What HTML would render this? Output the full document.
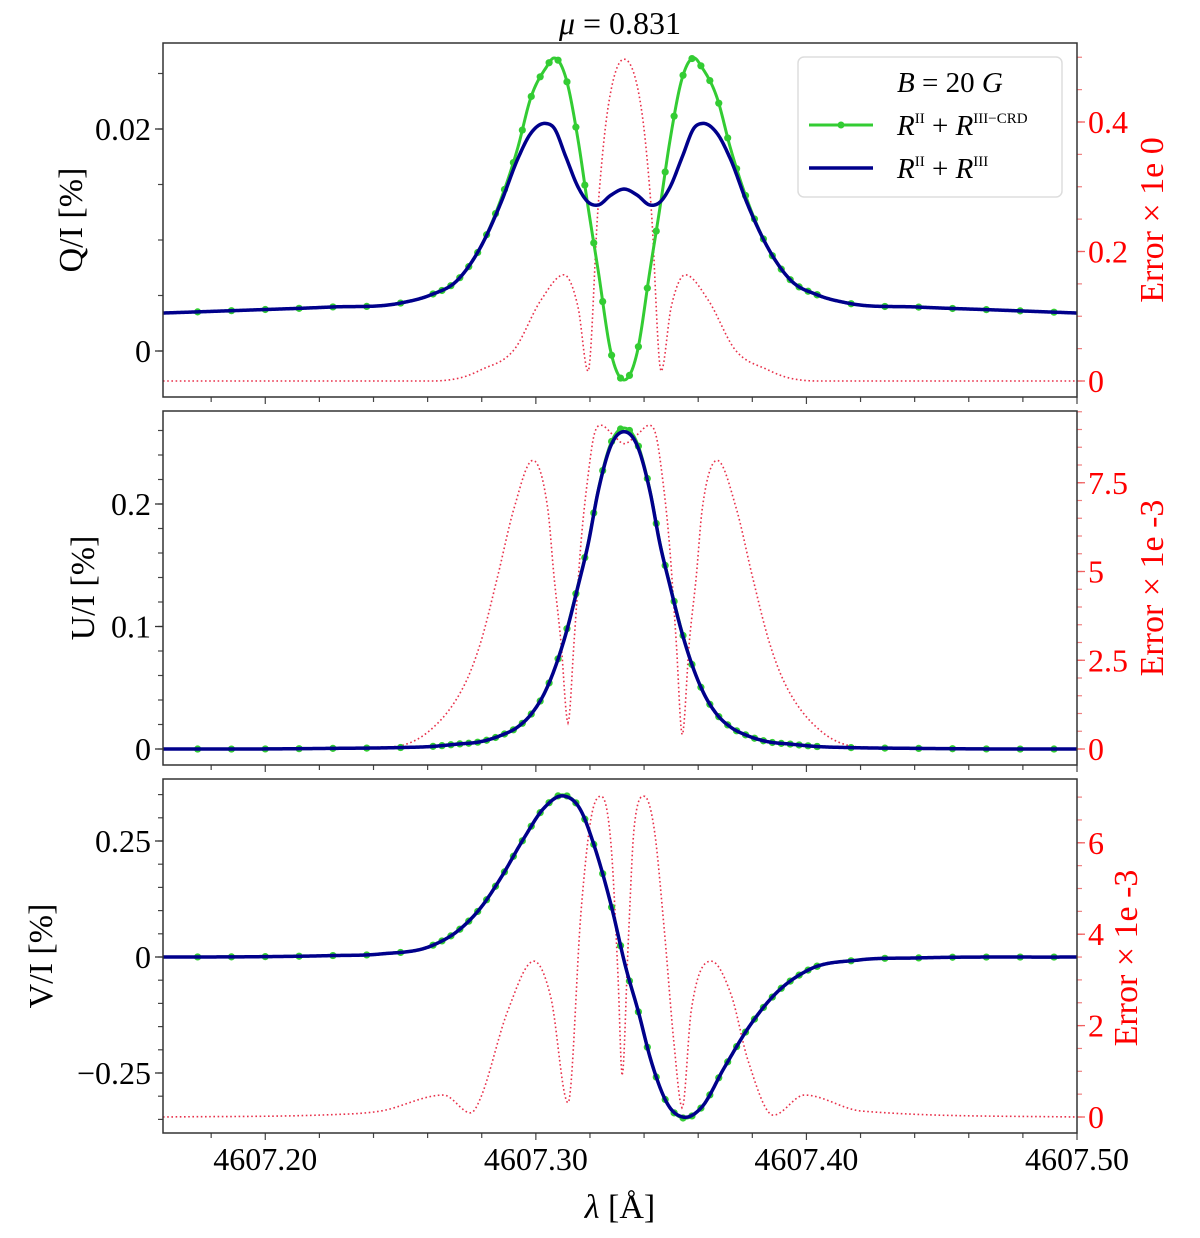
<!DOCTYPE html>
<html><head><meta charset="utf-8">
<style>
html,body{margin:0;padding:0;background:#fff;}
svg{display:block;font-family:"Liberation Serif","DejaVu Serif",serif;}
</style></head>
<body>
<svg id="chart" width="1200" height="1238" viewBox="0 0 1200 1238" xmlns="http://www.w3.org/2000/svg">
<text x="620" y="34" font-size="32" text-anchor="middle"><tspan font-style="italic">μ</tspan> = 0.831</text>
<text x="620" y="1218" font-size="34" text-anchor="middle"><tspan font-style="italic">λ</tspan> [Å]</text>
<g id="panels"></g>
<g>
<rect x="798" y="57" width="264" height="140" rx="6" fill="#fff" fill-opacity="0.9" stroke="#ddd" stroke-width="1.5"/>
<text x="897" y="92" font-size="29" font-style="italic">B <tspan font-style="normal">=</tspan> <tspan font-style="normal">20</tspan> G</text>
<line x1="809" y1="125" x2="873" y2="125" stroke="#33cc33" stroke-width="3"/>
<circle cx="841" cy="125" r="3.5" fill="#33cc33"/>
<text x="897" y="135" font-size="29"><tspan font-style="italic">R</tspan><tspan font-size="15" dy="-12">II</tspan><tspan dy="12"> + </tspan><tspan font-style="italic">R</tspan><tspan font-size="15" dy="-12">III−CRD</tspan></text>
<line x1="809" y1="168" x2="873" y2="168" stroke="#00008b" stroke-width="3.5"/>
<text x="897" y="178" font-size="29"><tspan font-style="italic">R</tspan><tspan font-size="15" dy="-12">II</tspan><tspan dy="12"> + </tspan><tspan font-style="italic">R</tspan><tspan font-size="15" dy="-12">III</tspan></text>
</g>
</svg>
<script>
// ---- data ----
const xTicks = [4607.20, 4607.30, 4607.40, 4607.50];
const xTickLabels = ["4607.20", "4607.30", "4607.40", "4607.50"];
const wlQU = [4607.1622,4607.1944,4607.2241,4607.2500,4607.2611,4607.2711,4607.2796,4607.2870,4607.2933,4607.2981,4607.3037,4607.3067,4607.3111,4607.3156,4607.3193,4607.3230,4607.3278,4607.3326,4607.3374,4607.3422,4607.3459,4607.3496,4607.3541,4607.3585,4607.3615,4607.3670,4607.3719,4607.3781,4607.3856,4607.3941,4607.4041,4607.4152,4607.4411,4607.4707,4607.5000];
const qCrd = [0.00342,0.00369,0.00396,0.00432,0.00505,0.0064,0.00937,0.0136,0.01829,0.02279,0.0255,0.0264,0.0246,0.01901,0.01297,0.0073,-0.00018,-0.00261,-0.00018,0.0073,0.01297,0.01901,0.0246,0.0264,0.0255,0.02279,0.01829,0.0136,0.00937,0.0064,0.00505,0.00432,0.00396,0.00369,0.00342];
const qFull = [0.00342,0.00369,0.00396,0.00432,0.00505,0.0064,0.00937,0.0133,0.0173,0.0196,0.0205,0.0201,0.01748,0.01477,0.01342,0.01315,0.01405,0.01459,0.01405,0.01315,0.01342,0.01477,0.01748,0.0201,0.0205,0.0196,0.0173,0.0133,0.00937,0.0064,0.00505,0.00432,0.00396,0.00369,0.00342];
const uCrd = [0,0,0.0005,0.0012,0.002,0.004,0.006,0.011,0.018,0.028,0.048,0.064,0.095,0.134,0.168,0.211,0.25,0.262,0.25,0.211,0.168,0.134,0.095,0.064,0.048,0.028,0.018,0.011,0.006,0.004,0.002,0.0012,0.0005,0,0];
const uFull = [0,0,0.0005,0.0012,0.002,0.004,0.006,0.011,0.018,0.028,0.048,0.064,0.094,0.133,0.167,0.210,0.248,0.259,0.248,0.210,0.167,0.133,0.094,0.064,0.048,0.028,0.018,0.011,0.006,0.004,0.002,0.0012,0.0005,0,0];
const wlQErr = [4607.1622,4607.2611,4607.2722,4607.2796,4607.2919,4607.3019,4607.3104,4607.3156,4607.3193,4607.3230,4607.3267,4607.3326,4607.3389,4607.3426,4607.3463,4607.3500,4607.3552,4607.3637,4607.3737,4607.3859,4607.3933,4607.4044,4607.5000];
const qErr = [0,0,0.005,0.017,0.048,0.125,0.164,0.114,0.015,0.269,0.423,0.497,0.423,0.269,0.015,0.114,0.164,0.125,0.048,0.017,0.005,0,0];
const wlUErr = [4607.1622,4607.2463,4607.2611,4607.2733,4607.2796,4607.2859,4607.2919,4607.2989,4607.3044,4607.3067,4607.3093,4607.3119,4607.3141,4607.3167,4607.3193,4607.3215,4607.3241,4607.3285,4607.3326,4607.3374,4607.3419,4607.3444,4607.3467,4607.3493,4607.3519,4607.3541,4607.3567,4607.3593,4607.3615,4607.3670,4607.3741,4607.3800,4607.3863,4607.3926,4607.4048,4607.4196,4607.5000];
const uErr = [0,0.06,0.54,1.76,3.0,4.87,6.77,8.13,6.77,4.87,3.0,0.74,3.0,5.83,7.7,8.84,9.12,8.85,8.6,8.85,9.12,8.84,7.7,5.83,3.0,0.4,3.0,4.87,6.77,8.13,6.77,4.87,3.0,1.76,0.54,0.06,0];
const wlV = [4607.1622,4607.1944,4607.2241,4607.2426,4607.2622,4607.2711,4607.2796,4607.2870,4607.2956,4607.3030,4607.3104,4607.3167,4607.3215,4607.3278,4607.3333,4607.3378,4607.3426,4607.3489,4607.3544,4607.3611,4607.3696,4607.3785,4607.3881,4607.4007,4607.4193,4607.4411,4607.5000];
const vCrd = [0,0.0005,0.003,0.0065,0.026,0.056,0.106,0.17,0.256,0.321,0.349,0.315,0.241,0.112,-0.024,-0.116,-0.224,-0.319,-0.347,-0.325,-0.239,-0.153,-0.082,-0.028,-0.0065,-0.002,0];
const vFull = [0,0.0005,0.003,0.0065,0.026,0.056,0.106,0.17,0.256,0.321,0.347,0.315,0.241,0.112,-0.024,-0.116,-0.224,-0.319,-0.345,-0.325,-0.239,-0.153,-0.082,-0.028,-0.0065,-0.002,0];
const wlVErr = [4607.1622,4607.2241,4607.2426,4607.2659,4607.2759,4607.2796,4607.2896,4607.2993,4607.3056,4607.3119,4607.3167,4607.3204,4607.3241,4607.3278,4607.3304,4607.3319,4607.3341,4607.3363,4607.3400,4607.3437,4607.3474,4607.3511,4607.3541,4607.3574,4607.3648,4607.3722,4607.3785,4607.3878,4607.3993,4607.4204,4607.5000];
const vErr = [0,0.05,0.13,0.48,0.09,0.42,2.32,3.41,2.6,0.31,4.5,6.54,7.02,5.95,3.04,0.9,3.76,6.32,7.02,6.32,4.14,1.58,0.2,2.32,3.41,2.67,1.22,0.04,0.48,0.13,0];
const qLeftTicks = [0, 0.02];
const qLeftLabels = ["0", "0.02"];
const qRightTicks = [0, 0.2, 0.4];
const qRightLabels = ["0", "0.2", "0.4"];
const uLeftTicks = [0, 0.1, 0.2];
const uLeftLabels = ["0", "0.1", "0.2"];
const uRightTicks = [0, 2.5, 5, 7.5];
const uRightLabels = ["0", "2.5", "5", "7.5"];
const vLeftTicks = [-0.25, 0, 0.25];
const vLeftLabels = ["−0.25", "0", "0.25"];
const vRightTicks = [0, 2, 4, 6];
const vRightLabels = ["0", "2", "4", "6"];

// ---- layout ----
const NS = "http://www.w3.org/2000/svg";
const X0 = 163, X1 = 1077, WL0 = 4607.1622, WL1 = 4607.50;
const xs = wl => X0 + (wl - WL0) / (WL1 - WL0) * (X1 - X0);
const root = document.getElementById('panels');
function mk(tag, attrs, parent) {
  const e = document.createElementNS(NS, tag);
  for (const k in attrs) e.setAttribute(k, attrs[k]);
  (parent || root).appendChild(e);
  return e;
}
function interp(xv, yv, smooth) {
  const n = xv.length, d = [], m = new Array(n);
  for (let i = 0; i < n - 1; i++) d.push((yv[i+1]-yv[i])/(xv[i+1]-xv[i]));
  m[0] = d[0]; m[n-1] = d[n-2];
  for (let i = 1; i < n - 1; i++) {
    const h0 = xv[i]-xv[i-1], h1 = xv[i+1]-xv[i];
    if (smooth) m[i] = (d[i-1]*h1 + d[i]*h0)/(h0+h1);
    else m[i] = (d[i-1]*d[i] <= 0) ? 0 : (d[i-1]+d[i])/2;
  }
  if (!smooth) for (let i = 0; i < n - 1; i++) {
    if (d[i] === 0) { m[i] = 0; m[i+1] = 0; continue; }
    const a = m[i]/d[i], b = m[i+1]/d[i], s = a*a + b*b;
    if (s > 9) { const t = 3/Math.sqrt(s); m[i] = t*a*d[i]; m[i+1] = t*b*d[i]; }
  }
  return function(x) {
    let i = 0; while (i < n - 2 && x > xv[i+1]) i++;
    const h = xv[i+1]-xv[i], t = (x - xv[i]) / h, t2 = t*t, t3 = t2*t;
    return (2*t3-3*t2+1)*yv[i] + (t3-2*t2+t)*h*m[i] + (-2*t3+3*t2)*yv[i+1] + (t3-t2)*h*m[i+1];
  };
}
function curvePath(wl, vals, ys, smooth) {
  const f = interp(wl, vals, smooth); let d = "";
  for (let px = X0; px <= X1; px += 1) {
    const w = WL0 + (px - X0) / (X1 - X0) * (WL1 - WL0);
    d += (d ? "L" : "M") + px + "," + ys(f(w)).toFixed(2);
  }
  return {d, f};
}
function markerGrid() {
  const out = [];
  for (let w = 4607.175; w < 4607.262; w += 0.0125) out.push(w);
  for (let w = 4607.262; w < 4607.404; w += 0.0033) out.push(w);
  for (let w = 4607.404; w < 4607.50; w += 0.0125) out.push(w);
  return out;
}
function panel(cfg) {
  const g = mk('g', {});
  
  
  const T = cfg.top, B = cfg.bottom;
  const ysL = v => cfg.l0y - v * cfg.lppu;
  const ysR = v => cfg.r0y - v * cfg.rppu;
  for (let v = cfg.lMin; v <= cfg.lMax + 1e-9; v += cfg.lStep) {
    const y = ysL(v); if (y < T || y > B) continue;
    const t = mk('line', {x1: X0 - 5, x2: X0, y1: y, y2: y, stroke: '#444', 'stroke-width': 1.2}, g);
    
    
  }
  cfg.lTicks.forEach((v, i) => {
    const y = ysL(v);
    const t = mk('line', {x1: X0 - 8, x2: X0, y1: y, y2: y, stroke: '#333', 'stroke-width': 1.3}, g);
    
    
    const tx = mk('text', {x: X0 - 12, y: y + 11, 'font-size': 32, 'text-anchor': 'end'}, g);
    tx.textContent = cfg.lLabels[i];
    
    
  });
  for (let v = 0; v <= cfg.rMax + 1e-9; v += cfg.rStep) {
    const y = ysR(v); if (y < T || y > B) continue;
    const t = mk('line', {x1: X1, x2: X1 + 5, y1: y, y2: y, stroke: '#f08080', 'stroke-width': 1.2}, g);
    
    
  }
  cfg.rTicks.forEach((v, i) => {
    const y = ysR(v);
    const t = mk('line', {x1: X1, x2: X1 + 8, y1: y, y2: y, stroke: '#f06060', 'stroke-width': 1.3}, g);
    
    
    const tx = mk('text', {x: X1 + 11, y: y + 11, 'font-size': 32, fill: '#ff0000'}, g);
    tx.textContent = cfg.rLabels[i];
    
    
  });
  for (let w = 4607.18; w <= 4607.5001; w += 0.02) {
    const x = xs(w); const major = Math.abs((w * 10) - Math.round(w * 10)) < 1e-6;
    const t = mk('line', {x1: x, x2: x, y1: B, y2: B + (major ? 7 : 5), stroke: '#444', 'stroke-width': 1.2}, g);
    
    
  }
  if (cfg.xLabels) xTicks.forEach((w, i) => {
    const tx = mk('text', {x: xs(w), y: B + 37, 'font-size': 32, 'text-anchor': 'middle'}, g);
    tx.textContent = xTickLabels[i];
    
    
  });
  const lt = mk('text', {x: 0, y: 0, 'font-size': 34, 'text-anchor': 'middle', transform: `translate(${cfg.ltx},${(T + B) / 2}) rotate(-90)`}, g);
  lt.textContent = cfg.lTitle;
  
  
  const rt = mk('text', {x: 0, y: 0, 'font-size': 34, 'text-anchor': 'middle', fill: '#ff0000', transform: `translate(${cfg.rtx},${cfg.rty}) rotate(-90)`}, g);
  rt.textContent = cfg.rTitle;
  
  
  const cp = mk('clipPath', {id: 'clip-' + cfg.name}, g);
  mk('rect', {x: X0, y: T, width: X1 - X0, height: B - T}, cp);
  const pg = mk('g', {'clip-path': `url(#clip-${cfg.name})`}, g);
  const ep = mk('path', {d: curvePath(cfg.errWl, cfg.err, ysR, false).d, fill: 'none', stroke: '#e8304a', 'stroke-width': 1.6, 'stroke-dasharray': '1.6 2.6'}, pg);
  
  
  const gc = curvePath(cfg.wl, cfg.crd, ysL, true);
  const gp = mk('path', {d: gc.d, fill: 'none', stroke: '#33cc33', 'stroke-width': 3}, pg);
  
  
  markerGrid().forEach(w => {
    const c = mk('circle', {cx: xs(w), cy: ysL(gc.f(w)), r: 3.6, fill: '#33cc33'}, pg);
    
    
  });
  const bp = mk('path', {d: curvePath(cfg.wl, cfg.full, ysL, true).d, fill: 'none', stroke: '#00008b', 'stroke-width': 3.5}, pg);
  
  
  const fr = mk('rect', {x: X0, y: T, width: X1 - X0, height: B - T, fill: 'none', stroke: '#333', 'stroke-width': 1.5}, g);
  
  
}
panel({name: 'q', top: 43, bottom: 397, l0y: 351, lppu: 11100, r0y: 381, rppu: 647.5,
  lMin: -0.005, lMax: 0.03, lStep: 0.005, rMax: 0.55, rStep: 0.05,
  lTicks: qLeftTicks, lLabels: qLeftLabels, rTicks: qRightTicks, rLabels: qRightLabels,
  lTitle: 'Q/I [%]', rTitle: 'Error × 1e 0', ltx: 82, rtx: 1163, rty: 220,
  wl: wlQU, crd: qCrd, full: qFull, errWl: wlQErr, err: qErr});
panel({name: 'u', top: 411, bottom: 765, l0y: 749, lppu: 1225, r0y: 749, rppu: 35.5,
  lMin: 0, lMax: 0.3, lStep: 0.02, rMax: 9.5, rStep: 0.5,
  lTicks: uLeftTicks, lLabels: uLeftLabels, rTicks: uRightTicks, rLabels: uRightLabels,
  lTitle: 'U/I [%]', rTitle: 'Error × 1e -3', ltx: 94, rtx: 1163, rty: 588,
  wl: wlQU, crd: uCrd, full: uFull, errWl: wlUErr, err: uErr});
panel({name: 'v', top: 779, bottom: 1133, l0y: 957, lppu: 464, r0y: 1117, rppu: 45.7,
  lMin: -0.35, lMax: 0.4, lStep: 0.05, rMax: 7.5, rStep: 0.5,
  lTicks: vLeftTicks, lLabels: vLeftLabels, rTicks: vRightTicks, rLabels: vRightLabels,
  lTitle: 'V/I [%]', rTitle: 'Error × 1e -3', ltx: 52, rtx: 1137, rty: 958,
  wl: wlV, crd: vCrd, full: vFull, errWl: wlVErr, err: vErr, xLabels: true});
</script>
</body></html>
